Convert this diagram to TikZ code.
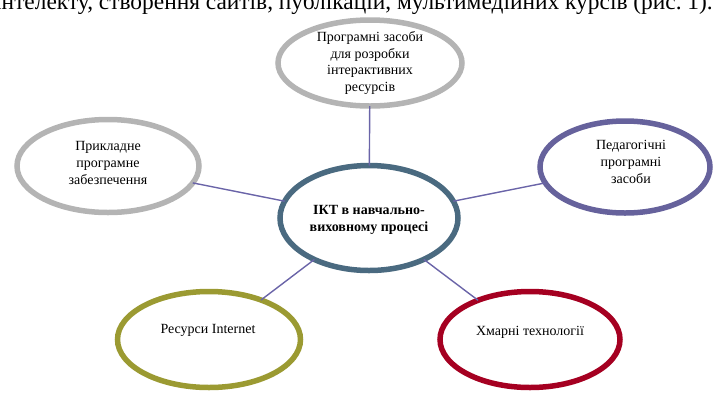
\documentclass[tikz,border=0pt]{standalone}
\usepackage{fontspec}
\setmainfont{Liberation Serif}
\usetikzlibrary{shapes.geometric}
\definecolor{cgray}{RGB}{180,180,180}
\definecolor{csteel}{RGB}{74,106,128}
\definecolor{cpurple}{RGB}{102,98,156}
\definecolor{colive}{RGB}{155,154,50}
\definecolor{cred}{RGB}{165,0,33}
\definecolor{cline}{RGB}{106,100,168}
\tikzset{
  oval/.style={ellipse, draw, line width=5.5pt, inner sep=0pt, outer sep=0pt, fill=white},
  lbl/.style={align=center, font=\fontsize{14}{16.7}\selectfont, inner sep=0pt},
  conn/.style={draw=cline, line width=1.4pt}
}
\begin{document}
\begin{tikzpicture}[x=1pt,y=-1pt]
\useasboundingbox (0,0) rectangle (715,392);
\clip (0,0) rectangle (715,392);
\node[anchor=base east, inner sep=0pt, font=\fontsize{23.4}{28}\selectfont] (head) at (713,9) {інтелекту, створення сайтів, публікацій, мультимедійних курсів (рис.~1).};
% ellipses
\node[oval, draw=cgray, minimum width=184pt, minimum height=86pt] (top) at (370,63) {};
\node[oval, draw=cgray, minimum width=182pt, minimum height=93pt] (left) at (108,166) {};
\node[oval, draw=cpurple, minimum width=170pt, minimum height=92pt] (right) at (625,167) {};
\node[oval, draw=csteel, minimum width=178pt, minimum height=105pt] (mid) at (369,218) {};
\node[oval, draw=colive, minimum width=183pt, minimum height=96pt] (bl) at (209,339.5) {};
\node[oval, draw=cred, minimum width=180pt, minimum height=96pt] (br) at (530,339.5) {};
% connectors
\draw[conn] (top) -- (mid);
\draw[conn] (left) -- (mid);
\draw[conn] (right) -- (mid);
\draw[conn] (bl) -- (mid);
\draw[conn] (br) -- (mid);
% labels
\node[lbl] (ttop) at (370,63) {Програмні засоби\\для розробки\\інтерактивних\\ресурсів};
\node[lbl] (tleft) at (108,163) {Прикладне\\програмне\\забезпечення};
\node[lbl] (tright) at (631,162) {Педагогічні\\програмні\\засоби};
\node[lbl, font=\fontsize{14}{16.7}\selectfont\bfseries] (tmid) at (369,220) {ІКТ в навчально-\\виховному процесі};
\node[lbl] (tbl) at (208,330) {Ресурси Internet};
\node[lbl] (tbr) at (530,332) {Хмарні технології};
\end{tikzpicture}
\end{document}
